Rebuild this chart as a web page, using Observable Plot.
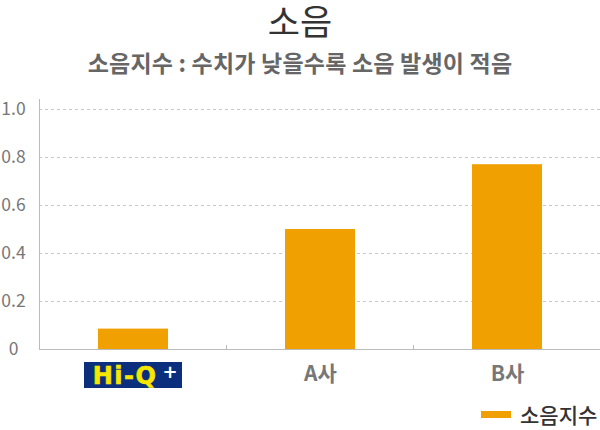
<!DOCTYPE html>
<html>
<head>
<meta charset="utf-8">
<script src="https://cdn.jsdelivr.net/npm/d3@7"></script>
<script src="https://cdn.jsdelivr.net/npm/@observablehq/plot@0.6"></script>
<style>
  html, body { margin: 0; padding: 0; background: #fff; }
  body { width: 600px; height: 430px; position: relative; overflow: hidden; font-family: "Noto Sans CJK KR", "Noto Sans", sans-serif; }
  #title { position: absolute; left: 0; top: 2px; width: 600px; text-align: center; font-size: 35px; line-height: 36px; color: #333; font-weight: 400; }
  #subtitle { position: absolute; left: 0; top: 49px; width: 600px; text-align: center; font-size: 23px; line-height: 26px; color: #666; font-weight: 700; letter-spacing: 0.2px; }
  #chart { position: absolute; left: 0; top: 90px; }
  #legend { position: absolute; left: 481px; top: 401px; display: flex; align-items: center; font-size: 21px; line-height: 26px; color: #333; font-weight: 500; }
  #legend .sw { width: 30px; height: 7px; margin-right: 9px; }
</style>
</head>
<body>
<div id="title">소음</div>
<div id="subtitle">소음지수 : 수치가 낮을수록 소음 발생이 적음</div>
<div id="chart"></div>
<div id="legend"><span class="sw"></span><span id="legtext"></span></div>
<script>
const categories = ["Hi-Q+", "A사", "B사"];
const values = [0.085, 0.50, 0.77];
const yTicks = [0, 0.2, 0.4, 0.6, 0.8, 1.0];
const seriesName = "소음지수";
const barColor = "#f0a000";

const data = categories.map((c, i) => ({cat: c, value: values[i]}));

const chart = Plot.plot({
  width: 600,
  height: 310,
  marginLeft: 39,
  marginRight: 0,
  marginTop: 9,
  marginBottom: 51,
  style: {fontFamily: "'Noto Sans CJK KR', 'Noto Sans', sans-serif", background: "#fff"},
  x: {domain: categories, paddingInner: 0.626, paddingOuter: 0.313, label: null},
  y: {domain: [0, 1.0417], label: null},
  marks: [
    Plot.gridY(yTicks, {stroke: "#c8c8c8", strokeOpacity: 1, strokeDasharray: "3,3"}),
    Plot.barY(data, {x: "cat", y: "value", fill: barColor}),
    Plot.ruleY([0], {stroke: "#bbb"}),
    Plot.frame({anchor: "left", stroke: "#bbb"}),
    Plot.axisY(yTicks, {tickSize: 0, tickPadding: 26, textAnchor: "middle", fontSize: 17.5, fill: "#777",
      tickFormat: d => d === 0 ? "0" : d.toFixed(1), label: null}),
    Plot.axisX({tickSize: 0, tickPadding: 17, fontSize: 21, fontWeight: "bold", fill: "#777",
      tickFormat: d => d === categories[0] ? "" : d, label: null})
  ]
});
document.getElementById("chart").appendChild(chart);

// Category boundary ticks and Hi-Q+ logo label, positioned from the x scale
const xs = chart.scale("x");
const svg = d3.select(chart);
const axisY0 = 310 - 51;
const step = xs.step, bw = xs.bandwidth;
const extra = svg.append("g");
categories.slice(0, -1).forEach(c => {
  const bx = xs.apply(c) + bw + (step - bw) / 2;
  extra.append("line").attr("x1", bx).attr("x2", bx).attr("y1", axisY0 - 4).attr("y2", axisY0).attr("stroke", "#bbb");
});
const cx = xs.apply(categories[0]) + bw / 2;
const logo = extra.append("g").attr("transform", `translate(${cx},${axisY0 + 13})`);
logo.append("rect").attr("x", -49).attr("y", 0).attr("width", 98).attr("height", 26).attr("fill", "#0b2f7d");
logo.append("text").attr("x", -8).attr("y", 22).attr("text-anchor", "middle")
  .attr("font-family", "'DejaVu Sans', sans-serif").attr("font-weight", "bold").attr("font-size", 24)
  .attr("letter-spacing", "1.5px").attr("fill", "#f7e600").attr("stroke", "#f7e600").attr("stroke-width", 0.6)
  .text("Hi-Q");
logo.append("text").attr("x", 37).attr("y", 16).attr("text-anchor", "middle")
  .attr("font-family", "'DejaVu Sans', sans-serif").attr("font-weight", "bold").attr("font-size", 18)
  .attr("fill", "#fff").text("+");

document.querySelector("#legend .sw").style.background = barColor;
document.getElementById("legtext").textContent = seriesName;
</script>
</body>
</html>
